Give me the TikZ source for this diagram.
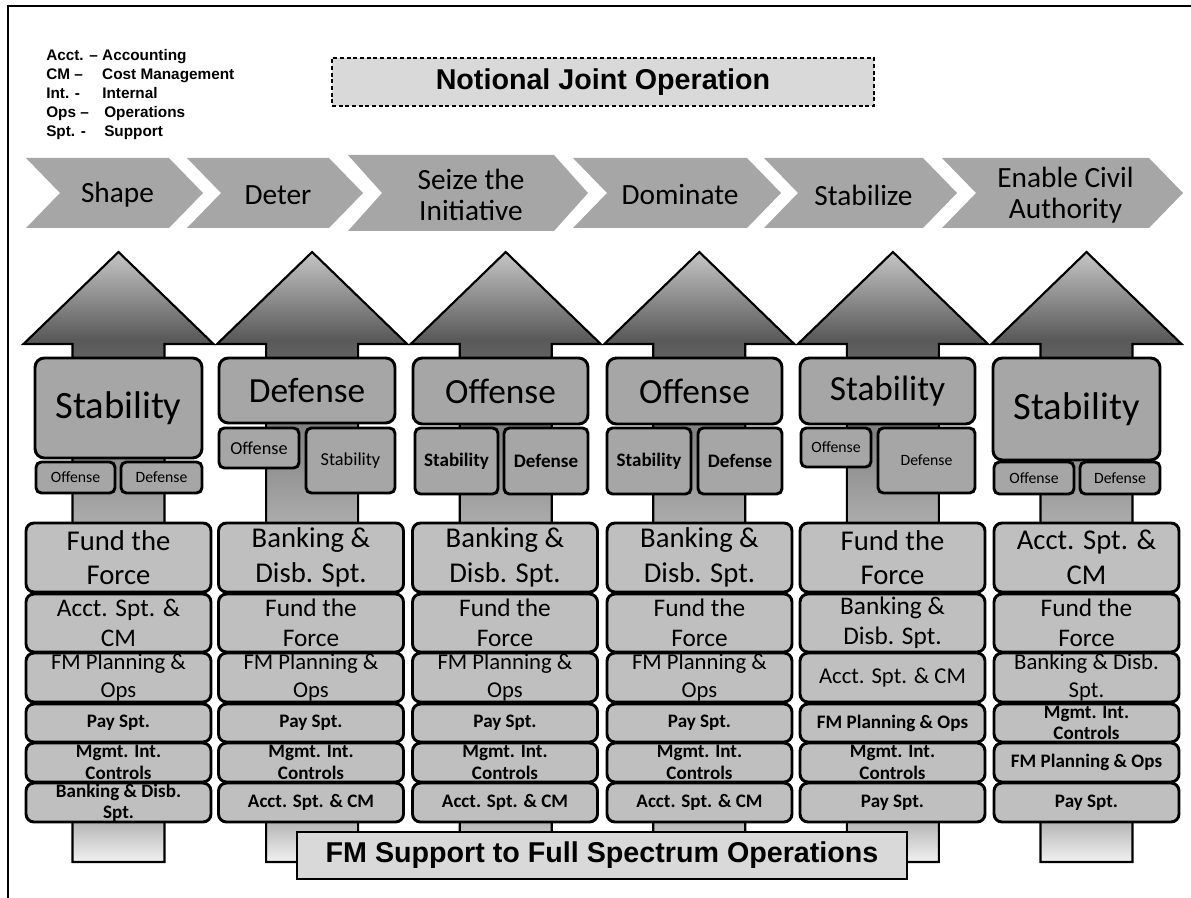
\documentclass[tikz,border=0pt]{standalone}
\usepackage{fontspec}
\setmainfont{Carlito}
\newfontfamily\arialfont{Liberation Sans}

\definecolor{chevgray}{HTML}{A6A6A6}
\definecolor{boxgray}{HTML}{A6A6A6}
\definecolor{stackgray}{HTML}{BFBFBF}
\definecolor{labelgray}{HTML}{D9D9D9}
\definecolor{shadeA}{HTML}{C6C6C6}
\definecolor{shadeB}{HTML}{595959}
\definecolor{shadeC}{HTML}{999999}
\definecolor{shadeD}{HTML}{ABABAB}
\definecolor{shadeE}{HTML}{B5B5B5}
\definecolor{shadeF}{HTML}{F2F2F2}

\pgfdeclareverticalshading{colshade}{100bp}{color(0bp)=(shadeF); color(25bp)=(shadeF);
  color(28.3bp)=(shadeE); color(53bp)=(shadeD); color(56.3bp)=(shadeC);
  color(67.8bp)=(shadeB); color(75bp)=(shadeA); color(100bp)=(shadeA)}

\tikzset{
  colarrow/.style={draw=black, line width=1.6pt, shading=colshade, line join=miter},
  chevron/.style={fill=chevgray},
  chevtext/.style={font=\fontsize{22}{23.5}\selectfont, align=center, inner sep=0pt},
  topbox/.style={draw=black, fill=boxgray, line width=2.2pt, rounded corners=7pt, inner sep=0pt, align=center},
  subbox/.style={topbox, rounded corners=4pt},
  bigtxt/.style={font=\fontsize{26.5}{30}\selectfont},
  hugetxt/.style={font=\fontsize{29}{32}\selectfont},
  smalltxt/.style={font=\fontsize{11.8}{14}\selectfont},
  midtxt/.style={font=\fontsize{13.7}{16}\selectfont},
  boldtxt/.style={font=\bfseries\fontsize{14.3}{16}\selectfont},
  stackbox/.style={draw=black, fill=stackgray, line width=2.2pt, rounded corners=6pt,
    inner xsep=0pt, inner ysep=-12pt, minimum width=138.75pt, align=center},
  row1/.style={minimum height=51.75pt, font=\fontsize{21.5}{26}\selectfont},
  row2/.style={minimum height=43.5pt, font=\fontsize{19}{22.5}\selectfont},
  row3/.style={minimum height=36.75pt, font=\fontsize{17}{21}\selectfont},
  row4/.style={minimum height=28.5pt, font=\bfseries\fontsize{14.3}{16}\selectfont},
  row5/.style={minimum height=29.25pt, font=\bfseries\fontsize{14.3}{16}\selectfont},
  row6/.style={minimum height=29.25pt, font=\bfseries\fontsize{14.3}{16}\selectfont},
  legend/.style={font=\arialfont\bfseries\fontsize{11.5}{13}\selectfont, anchor=base west, inner sep=0pt},
  titlebox/.style={draw=black, fill=labelgray, inner sep=0pt,
    font=\arialfont\bfseries\fontsize{21.5}{25}\selectfont}
}

\begin{document}
\begin{tikzpicture}[x=0.75pt, y=-0.75pt]
\useasboundingbox (0,0) rectangle (1191,898);

% frame
\draw[line width=2pt] (8,898) -- (8,6) -- (1191,6);

% legend
\foreach \ab/\w/\full [count=\i] in {Acct. –/42/Accounting, CM –/42/Cost Management,
    Int. -/42/Internal, Ops –/43.5/Operations, Spt. -/43.5/Support}
  \node[legend] (leg\i) at (46,42+19*\i) {\makebox[\w pt][l]{\ab}\full};

\node[titlebox, line width=0.8pt, dash pattern=on 3pt off 2pt,
  minimum width=406.5pt, minimum height=36pt] (notional) at (603,82) {Notional Joint Operation};

% phases
\foreach \l/\t/\h/\txt/\nm in {26/203/35/Shape/shape, 187/363/35/Deter/deter,
    348/588/38/{Seize the\\Initiative}/seize, 573/781/35/Dominate/dominate,
    764/957/35/Stabilize/stabilize, 942/1183/35/{Enable Civil\\Authority}/enable}{
  \fill[chevron] (\l,193-\h) -- (\t-34,193-\h) -- (\t,193) -- (\t-34,193+\h)
    -- (\l,193+\h) -- (\l+34,193) -- cycle;
  \node[chevtext] (\nm) at ({(\l+\t)/2+3},195) {\txt};
}

% big arrows
\foreach \cx in {118.5,312.1,505.7,699.3,892.9,1086.5}
  \draw[colarrow] (\cx,252) -- (\cx+95,344) -- (\cx+46,344) -- (\cx+46,862)
    -- (\cx-46,862) -- (\cx-46,344) -- (\cx-95,344) -- cycle;

% operations on each arrow
\node[topbox, hugetxt, minimum width=125.25pt, minimum height=75pt] (stab1) at (118.5,408) {Stability};
\node[subbox, smalltxt, minimum width=59.25pt, minimum height=23.25pt] (off1) at (75.5,477.5) {Offense};
\node[subbox, smalltxt, minimum width=60.75pt, minimum height=23.25pt] (def1) at (161.5,477.5) {Defense};

\node[topbox, bigtxt, minimum width=132pt, minimum height=48.75pt] (def2) at (307,390.5) {Defense};
\node[subbox, midtxt, minimum width=60pt, minimum height=30pt] (off2) at (259,448) {Offense};
\node[subbox, midtxt, minimum width=66.75pt, minimum height=48.75pt] (stab2) at (350.5,460.5) {Stability};

\node[topbox, bigtxt, minimum width=131.25pt, minimum height=49.5pt] (off3) at (500.5,391) {Offense};
\node[subbox, boldtxt, minimum width=62.25pt, minimum height=49.5pt] (stab3) at (456.5,461) {Stability};
\node[subbox, boldtxt, minimum width=63pt, minimum height=49.5pt] (def3) at (546,461) {Defense};

\node[topbox, bigtxt, minimum width=131.25pt, minimum height=49.5pt] (off4) at (694.5,391) {Offense};
\node[subbox, boldtxt, minimum width=63pt, minimum height=49.5pt] (stab4) at (649,461) {Stability};
\node[subbox, boldtxt, minimum width=63pt, minimum height=49.5pt] (def4) at (740,461) {Defense};

\node[topbox, bigtxt, minimum width=131.25pt, minimum height=49.5pt] (stab5) at (887.5,391) {Stability};
\node[subbox, smalltxt, minimum width=52.5pt, minimum height=29.25pt] (off5) at (836,447.5) {Offense};
\node[subbox, smalltxt, minimum width=72.75pt, minimum height=48.75pt] (def5) at (926.5,460.5) {Defense};

\node[topbox, hugetxt, minimum width=125.25pt, minimum height=76.5pt] (stab6) at (1076.5,409) {Stability};
\node[subbox, smalltxt, minimum width=60pt, minimum height=24pt] (off6) at (1034,478) {Offense};
\node[subbox, smalltxt, minimum width=60pt, minimum height=24pt] (def6) at (1120,478) {Defense};

% FM tasks
\node[stackbox, row1] (fund1) at (118.5,557.5) {Fund the\\Force};
\node[stackbox, row2] (acct1) at (118.5,623) {Acct. Spt. \&\\CM};
\node[stackbox, row3] (plan1) at (118.5,677.5) {FM Planning \&\\Ops};
\node[stackbox, row4] (pay1) at (118.5,723) {Pay Spt.};
\node[stackbox, row5] (ctrl1) at (118.5,762.5) {Mgmt. Int.\\Controls};
\node[stackbox, row6] (bank1) at (118.5,802.5) {Banking \& Disb.\\Spt.};

\node[stackbox, row1] (bank2) at (311,557.5) {Banking \&\\Disb. Spt.};
\node[stackbox, row2] (fund2) at (311,623) {Fund the\\Force};
\node[stackbox, row3] (plan2) at (311,677.5) {FM Planning \&\\Ops};
\node[stackbox, row4] (pay2) at (311,723) {Pay Spt.};
\node[stackbox, row5] (ctrl2) at (311,762.5) {Mgmt. Int.\\Controls};
\node[stackbox, row6] (acct2) at (311,802.5) {Acct. Spt. \& CM};

\node[stackbox, row1] (bank3) at (505,557.5) {Banking \&\\Disb. Spt.};
\node[stackbox, row2] (fund3) at (505,623) {Fund the\\Force};
\node[stackbox, row3] (plan3) at (505,677.5) {FM Planning \&\\Ops};
\node[stackbox, row4] (pay3) at (505,723) {Pay Spt.};
\node[stackbox, row5] (ctrl3) at (505,762.5) {Mgmt. Int.\\Controls};
\node[stackbox, row6] (acct3) at (505,802.5) {Acct. Spt. \& CM};

\node[stackbox, row1] (bank4) at (699.5,557.5) {Banking \&\\Disb. Spt.};
\node[stackbox, row2] (fund4) at (699.5,623) {Fund the\\Force};
\node[stackbox, row3] (plan4) at (699.5,677.5) {FM Planning \&\\Ops};
\node[stackbox, row4] (pay4) at (699.5,723) {Pay Spt.};
\node[stackbox, row5] (ctrl4) at (699.5,762.5) {Mgmt. Int.\\Controls};
\node[stackbox, row6] (acct4) at (699.5,802.5) {Acct. Spt. \& CM};

\node[stackbox, row1] (fund5) at (892.5,557.5) {Fund the\\Force};
\node[stackbox, row2] (bank5) at (892.5,623) {Banking \&\\Disb. Spt.};
\node[stackbox, row3] (acct5) at (892.5,677.5) {Acct. Spt. \& CM};
\node[stackbox, row4] (plan5) at (892.5,723) {FM Planning \& Ops};
\node[stackbox, row5] (ctrl5) at (892.5,762.5) {Mgmt. Int.\\Controls};
\node[stackbox, row6] (pay5) at (892.5,802.5) {Pay Spt.};

\node[stackbox, row1] (acct6) at (1086.5,557.5) {Acct. Spt. \&\\CM};
\node[stackbox, row2] (fund6) at (1086.5,623) {Fund the\\Force};
\node[stackbox, row3] (bank6) at (1086.5,677.5) {Banking \& Disb.\\Spt.};
\node[stackbox, row4] (ctrl6) at (1086.5,723) {Mgmt. Int.\\Controls};
\node[stackbox, row5] (plan6) at (1086.5,762.5) {FM Planning \& Ops};
\node[stackbox, row6] (pay6) at (1086.5,802.5) {Pay Spt.};

\node[titlebox, line width=1.5pt, minimum width=457.5pt, minimum height=35.25pt]
  (fmsupport) at (602,855.5) {FM Support to Full Spectrum Operations};
\end{tikzpicture}
\end{document}
